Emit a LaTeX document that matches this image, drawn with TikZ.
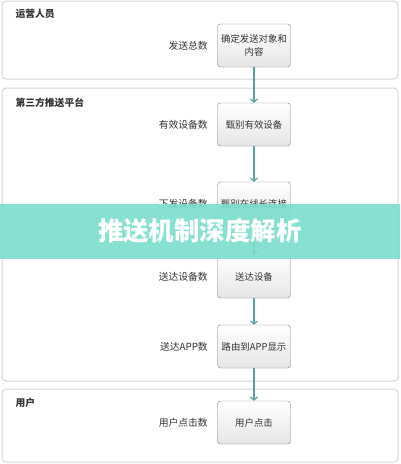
\documentclass[tikz,border=0pt]{standalone}
\usepackage{fontspec}
\setmainfont{Noto Sans CJK SC}
\usetikzlibrary{positioning, arrows.meta}
\definecolor{flowteal}{RGB}{92,160,162}
\definecolor{lanegray}{RGB}{214,214,214}
\definecolor{boxgray}{RGB}{128,128,128}
\definecolor{bannerteal}{RGB}{122,222,206}
\definecolor{txtgray}{RGB}{51,51,51}
\tikzset{
  lane/.style={
    draw=lanegray,
    line width=1pt,
    rounded corners=4pt,
    fill=white
  },
  lanetitle/.style={
    anchor=west,
    font=\fontsize{9.8}{11}\selectfont\bfseries,
    text=txtgray
  },
  stepbox/.style={
    draw=boxgray,
    rectangle,
    rounded corners=3pt,
    minimum width=73pt,
    minimum height=43pt,
    inner sep=2pt,
    align=center,
    top color=white,
    bottom color=black!10,
    font=\fontsize{9.4}{13}\selectfont,
    text=txtgray
  },
  metric/.style={
    anchor=east,
    font=\fontsize{9.8}{12}\selectfont,
    text=txtgray
  },
  flow/.style={
    draw=flowteal,
    line width=1.2pt,
    -{Straight Barb[length=3pt,width=7pt]}
  }
}

\begin{document}
\begin{tikzpicture}[x=1pt, y=-1pt]
      \useasboundingbox (0,0) rectangle (400,464);
      \fill[white] (0,0) rectangle (400,464);

      %泳道
      \draw[lane] (2,1) rectangle (398,79);
      \draw[lane] (2,88) rectangle (398,381);
      \draw[lane] (2,389) rectangle (398,462);
      \node[lanetitle] (ops) at (12,14) {运营人员};
      \node[lanetitle] (platform) at (12,103) {第三方推送平台};
      \node[lanetitle] (user) at (12,403) {用户};

      % 步骤
      \node[stepbox] (confirm) at (254,45.5) {确定发送对象和\\内容};
      \node[stepbox] (valid) at (254,124.5) {甄别有效设备};
      \node[stepbox] (online) at (254,203.5) {甄别在线长连接};
      \node[stepbox] (deliver) at (254,276.5) {送达设备};
      \node[stepbox] (route) at (254,346.5) {路由到APP显示};
      \node[stepbox] (click) at (254,422.5) {用户点击};

      % 指标
      \node[metric, left=6pt of confirm] (total) {发送总数};
      \node[metric, left=6pt of valid] (validnum) {有效设备数};
      \node[metric, left=6pt of online] (sentnum) {下发设备数};
      \node[metric, left=6pt of deliver] (delivnum) {送达设备数};
      \node[metric, left=6pt of route] (appnum) {送达APP数};
      \node[metric, left=6pt of click] (clicknum) {用户点击数};

      % 箭头
      \draw[flow] (confirm) -- (valid);
      \draw[flow] (valid) -- (online);
      \draw[flow] (online) -- (deliver);
      \draw[flow] (deliver) -- (route);
      \draw[flow] (route) -- (click);

      % 标题横幅
      \fill[bannerteal, fill opacity=0.9] (0,204) rectangle (400,259);
      \node[font=\fontsize{25.5}{28}\selectfont\bfseries, text=white] (banner) at (200,231) {推送机制深度解析};
    \end{tikzpicture}
\end{document}
